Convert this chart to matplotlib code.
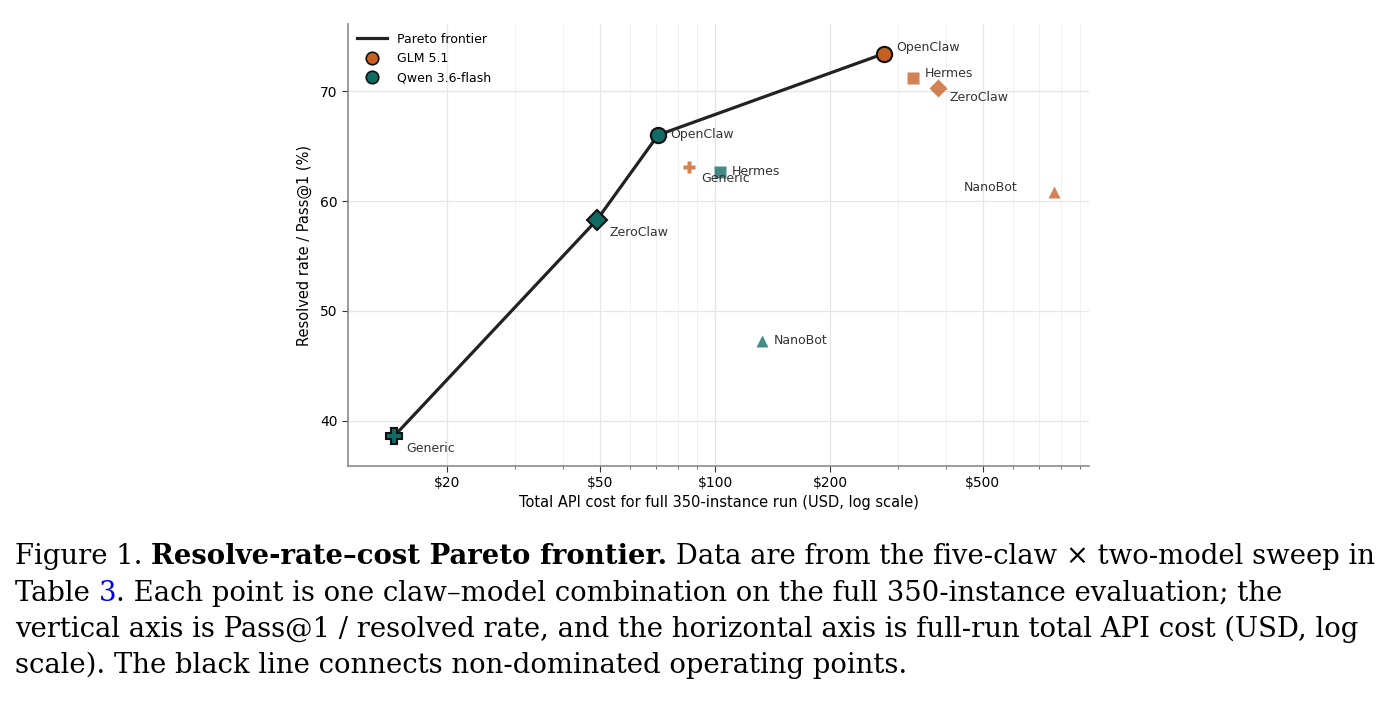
import matplotlib
matplotlib.use("Agg")
import matplotlib.pyplot as plt
from matplotlib.lines import Line2D
from matplotlib.ticker import FixedLocator, FixedFormatter, LogLocator, NullFormatter

# ---------------- data ----------------
claws = ["Generic", "ZeroClaw", "OpenClaw", "Hermes", "NanoBot"]
qwen_cost = [14.5, 49.2, 71.0, 103.0, 132.6]
qwen_rate = [38.6, 58.3, 66.0, 62.6, 47.3]
glm_cost = [85.5, 382.0, 276.0, 329.0, 767.0]
glm_rate = [63.1, 70.3, 73.4, 71.2, 60.8]
models = ["GLM 5.1", "Qwen 3.6-flash"]
pareto_points = [("Qwen 3.6-flash", "Generic"), ("Qwen 3.6-flash", "ZeroClaw"),
                 ("Qwen 3.6-flash", "OpenClaw"), ("GLM 5.1", "OpenClaw")]
xtick_values = [20, 50, 100, 200, 500]
xtick_labels = ["$20", "$50", "$100", "$200", "$500"]
ytick_values = [40, 50, 60, 70]

# ---------------- style ----------------
colors = {"GLM 5.1": "#C65F24", "Qwen 3.6-flash": "#0F6B63"}
markers = {"Generic": "P", "ZeroClaw": "D", "OpenClaw": "o", "Hermes": "s", "NanoBot": "^"}
ms_front = {"Generic": 12.0, "ZeroClaw": 10.5, "OpenClaw": 11.0, "Hermes": 10.5, "NanoBot": 10.5}
ms_other = {"Generic": 9.0, "ZeroClaw": 8.8, "OpenClaw": 9.0, "Hermes": 8.6, "NanoBot": 8.6}
# label offsets in pixels (dx, dy, ha)
offsets = {
    ("Qwen 3.6-flash", "Generic"): (12, -12, "left"),
    ("Qwen 3.6-flash", "ZeroClaw"): (12, -13, "left"),
    ("Qwen 3.6-flash", "OpenClaw"): (12, 1, "left"),
    ("Qwen 3.6-flash", "Hermes"): (12, 1, "left"),
    ("Qwen 3.6-flash", "NanoBot"): (12, 0, "left"),
    ("GLM 5.1", "Generic"): (12, -12, "left"),
    ("GLM 5.1", "OpenClaw"): (12, 6, "left"),
    ("GLM 5.1", "Hermes"): (12, 4, "left"),
    ("GLM 5.1", "ZeroClaw"): (12, -10, "left"),
    ("GLM 5.1", "NanoBot"): (-36, 5, "right"),
}

W, H = 1393, 714
fig = plt.figure(figsize=(W / 100, H / 100), dpi=100)
ax = fig.add_axes([348 / W, 1 - 466 / H, (1089 - 348) / W, (466 - 24) / H])

data = {"GLM 5.1": (glm_cost, glm_rate), "Qwen 3.6-flash": (qwen_cost, qwen_rate)}
lookup = {}
for m in models:
    cs, rs = data[m]
    for c, x, y in zip(claws, cs, rs):
        lookup[(m, c)] = (x, y)

# pareto line
px = [lookup[k][0] for k in pareto_points]
py = [lookup[k][1] for k in pareto_points]
ax.plot(px, py, color="#222222", lw=2.3, zorder=3, solid_capstyle="round")

for m in models:
    for c in claws:
        x, y = lookup[(m, c)]
        if (m, c) in pareto_points:
            ax.plot([x], [y], marker=markers[c], ms=ms_front[c], color=colors[m],
                    mec="#111111", mew=1.5, ls="none", zorder=5)
        else:
            ax.plot([x], [y], marker=markers[c], ms=ms_other[c], color=colors[m],
                    mec="none", alpha=0.78, ls="none", zorder=4)
        dx, dy, ha = offsets[(m, c)]
        ax.annotate(c, (x, y), xytext=(dx * 0.72, dy * 0.72), textcoords="offset points",
                    ha=ha, va="center", fontsize=9, color="#333333", zorder=6)

ax.set_xscale("log")
ax.set_xlim(11.0, 948)
ax.set_ylim(35.9, 76.1)
ax.xaxis.set_major_locator(FixedLocator(xtick_values))
ax.xaxis.set_major_formatter(FixedFormatter(xtick_labels))
ax.xaxis.set_minor_locator(LogLocator(base=10, subs=range(2, 10)))
ax.xaxis.set_minor_formatter(NullFormatter())
ax.set_yticks(ytick_values)

ax.grid(True, which="major", color="#E6E6EA", lw=0.9, zorder=0)
ax.grid(True, which="minor", axis="x", color="#F2F2F5", lw=0.7, zorder=0)
ax.set_axisbelow(True)
for s in ["top", "right"]:
    ax.spines[s].set_visible(False)
for s in ["left", "bottom"]:
    ax.spines[s].set_color("#8A8A8A")
    ax.spines[s].set_linewidth(1.2)
ax.tick_params(axis="both", which="major", labelsize=10, length=4, color="#333333")
ax.tick_params(axis="x", which="minor", length=2.5, color="#555555")

ax.set_xlabel("Total API cost for full 350-instance run (USD, log scale)", fontsize=10.5, labelpad=3)
ax.set_ylabel("Resolved rate / Pass@1 (%)", fontsize=10.5, labelpad=6)

handles = [Line2D([], [], color="#222222", lw=2.3, label="Pareto frontier")]
for m in models:
    handles.append(Line2D([], [], marker="o", ls="none", ms=9, color=colors[m],
                          mec="#111111", mew=1.2, label=m))
ax.legend(handles=handles, loc="upper left", frameon=False, fontsize=9,
          handlelength=2.4, borderaxespad=0.3, labelspacing=0.5)

# ---------------- caption ----------------
cap_font = "DejaVu Serif"
lines = [
    [("Figure 1. ", "normal", "black"), ("Resolve-rate\u2013cost Pareto frontier.", "bold", "black"),
     (" Data are from the five-claw \u00d7 two-model sweep in", "normal", "black")],
    [("Table ", "normal", "black"), ("3", "normal", "#0000EE"),
     (". Each point is one claw\u2013model combination on the full 350-instance evaluation; the", "normal", "black")],
    [("vertical axis is Pass@1 / resolved rate, and the horizontal axis is full-run total API cost (USD, log", "normal", "black")],
    [("scale). The black line connects non-dominated operating points.", "normal", "black")],
]
baselines = [564, 601, 637, 673]
renderer = fig.canvas.get_renderer()


def measure(s, weight, size):
    t = fig.text(0, 0, s.replace(" ", "\u00a0"), fontsize=size, fontweight=weight, family=cap_font)
    w = t.get_window_extent(renderer).width
    t.remove()
    return w


# fit size so that line 1 spans approx 15..1378 px
base = 18.0
w1 = sum(measure(s, wt, base) for s, wt, _ in lines[0])
size = base * (1363 / w1)

for runs, bl in zip(lines, baselines):
    x = 15
    for s, wt, col in runs:
        t = fig.text(x / W, 1 - bl / H, s.replace(" ", "\u00a0"), fontsize=size, fontweight=wt,
                     color=col, family=cap_font, va="baseline", ha="left")
        x += t.get_window_extent(renderer).width

fig.savefig("out.png", dpi=100)
